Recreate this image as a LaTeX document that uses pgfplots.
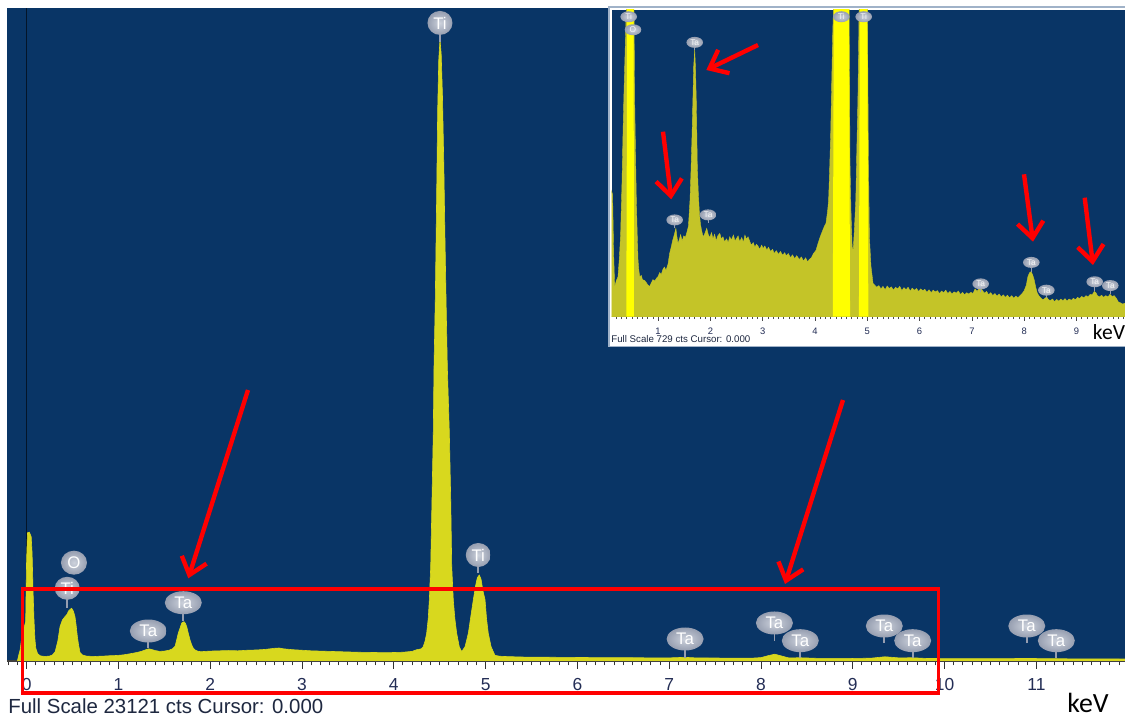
\documentclass[border=0pt]{standalone}
\usepackage{fontspec}
\setmainfont{Liberation Sans}
\newfontfamily\calibri{Carlito}
\usepackage{pgfplots}
\usepackage{pgfplotstable}
\pgfplotsset{compat=1.18}
\usetikzlibrary{arrows.meta,shapes.geometric}

\definecolor{edsblue}{RGB}{9,53,102}
\definecolor{edsyel}{RGB}{216,216,30}
\definecolor{edsolive}{RGB}{196,196,40}
\definecolor{edsbright}{RGB}{255,255,0}
\definecolor{ticktxt}{RGB}{35,45,85}
\definecolor{balin}{RGB}{205,210,220}
\definecolor{balout}{RGB}{150,158,176}
\definecolor{framec}{RGB}{160,178,200}

% main spectrum, full scale 23121 cts
\pgfplotstableread{
e c
-0.10 0
-0.09 150
-0.07 400
-0.05 900
-0.03 1150
-0.01 1400
0.00 3600
0.01 4540
0.03 4560
0.05 4400
0.06 3800
0.07 2500
0.08 1500
0.09 800
0.10 450
0.12 260
0.15 180
0.20 160
0.25 175
0.28 210
0.31 320
0.34 700
0.364 1215
0.39 1450
0.418 1570
0.44 1650
0.455 1760
0.475 1830
0.491 1866
0.51 1760
0.527 1570
0.54 1250
0.553 860
0.567 550
0.582 300
0.61 210
0.65 175
0.70 165
0.75 160
0.80 170
0.85 175
0.90 185
0.95 190
1.00 200
1.05 215
1.10 240
1.15 270
1.20 300
1.25 340
1.30 400
1.33 430
1.36 410
1.40 370
1.45 340
1.50 350
1.55 380
1.59 430
1.617 520
1.635 750
1.653 990
1.67 1150
1.69 1345
1.715 1392
1.73 1330
1.744 1215
1.76 1000
1.78 745
1.80 560
1.816 450
1.84 380
1.871 340
1.90 330
1.95 340
2.00 350
2.10 360
2.20 370
2.30 360
2.40 380
2.50 390
2.60 410
2.70 450
2.75 460
2.80 430
2.90 400
3.00 380
3.10 360
3.20 350
3.30 340
3.40 330
3.50 320
3.60 310
3.70 305
3.80 300
3.90 295
4.00 300
4.10 310
4.20 340
4.25 400
4.30 430
4.32 506
4.34 700
4.358 981
4.375 1500
4.387 2160
4.402 3340
4.416 5700
4.430 8060
4.438 10400
4.452 12800
4.465 16000
4.478 19500
4.49 21300
4.503 22000
4.516 21500
4.530 20000
4.545 17500
4.557 15000
4.569 12800
4.583 10400
4.605 8060
4.620 5700
4.631 3340
4.648 2160
4.665 1500
4.685 981
4.713 506
4.740 330
4.776 506
4.812 981
4.840 1600
4.866 2160
4.890 2650
4.910 2950
4.931 3045
4.950 2900
4.970 2500
4.994 2160
5.010 1500
5.029 981
5.060 500
5.102 200
5.15 170
5.20 160
5.40 140
5.60 135
5.80 130
6.00 125
6.20 120
6.40 118
6.60 115
6.80 112
7.00 110
7.17 130
7.30 108
7.50 105
7.70 102
7.90 100
8.00 120
8.08 190
8.15 240
8.22 180
8.30 110
8.43 115
8.60 95
8.80 92
9.00 90
9.20 100
9.35 150
9.50 110
9.65 115
9.80 90
10.00 85
10.50 80
10.90 90
11.20 80
11.50 75
11.965 70
}\mainspec

% inset spectrum, full scale 729 cts
\pgfplotstableread{
e c
0.109 300
0.13 290
0.15 150
0.17 71
0.20 85
0.233 95
0.26 140
0.284 198
0.31 320
0.329 436
0.345 520
0.361 594
0.38 680
0.392 729
0.41 760
0.42 900
0.45 1200
0.48 1400
0.51 1200
0.53 850
0.539 729
0.552 515
0.568 390
0.584 277
0.60 200
0.616 135
0.632 110
0.648 95
0.68 98
0.70 88
0.743 86
0.78 80
0.80 76
0.839 72
0.87 80
0.90 88
0.94 85
0.97 92
0.998 95
1.03 105
1.06 100
1.09 112
1.12 118
1.15 110
1.19 125
1.22 150
1.25 165
1.28 182
1.31 195
1.34 210
1.36 190
1.38 174
1.41 185
1.43 195
1.46 180
1.49 192
1.52 188
1.55 200
1.58 215
1.61 277
1.63 350
1.65 436
1.67 540
1.68 594
1.70 634
1.715 590
1.73 515
1.75 357
1.77 290
1.79 245
1.81 220
1.83 206
1.85 195
1.87 190
1.90 200
1.93 210
1.96 195
1.99 188
2.02 200
2.05 185
2.08 196
2.11 180
2.14 192
2.18 198
2.21 184
2.24 190
2.27 178
2.31 185
2.34 176
2.37 190
2.40 182
2.44 194
2.47 180
2.50 186
2.53 192
2.56 178
2.60 188
2.63 176
2.66 194
2.69 184
2.72 190
2.75 180
2.78 170
2.82 176
2.85 165
2.88 172
2.91 168
2.94 160
2.98 170
3.01 162
3.04 168
3.08 158
3.11 165
3.15 155
3.19 160
3.22 150
3.26 157
3.30 148
3.34 155
3.38 146
3.42 152
3.45 145
3.49 150
3.53 140
3.57 147
3.61 138
3.65 145
3.70 136
3.74 142
3.78 132
3.82 140
3.86 130
3.89 136
3.93 140
3.97 150
4.02 158
4.06 175
4.10 190
4.15 206
4.18 215
4.21 222
4.24 250
4.26 277
4.28 350
4.30 436
4.32 560
4.34 680
4.36 760
4.38 1100
4.42 2500
4.46 6000
4.50 9000
4.54 7000
4.58 3000
4.62 1200
4.65 760
4.67 357
4.69 240
4.71 166
4.73 158
4.75 200
4.78 277
4.80 400
4.82 515
4.84 700
4.86 900
4.90 1600
4.93 1800
4.97 1200
5.00 760
5.02 400
5.04 190
5.07 120
5.11 79
5.14 75
5.18 70
5.22 74
5.26 66
5.30 72
5.34 64
5.38 73
5.42 67
5.46 71
5.50 63
5.54 70
5.58 66
5.62 72
5.66 62
5.70 69
5.74 64
5.78 70
5.82 61
5.86 68
5.90 63
5.94 67
5.98 60
6.02 66
6.06 62
6.10 65
6.14 58
6.18 64
6.22 57
6.26 63
6.30 59
6.34 62
6.38 55
6.42 61
6.46 57
6.50 63
6.54 55
6.58 60
6.62 54
6.66 59
6.70 56
6.74 61
6.78 53
6.82 58
6.86 52
6.90 57
6.94 54
6.98 58
7.02 55
7.06 66
7.10 60
7.14 68
7.17 70
7.20 62
7.24 56
7.28 60
7.32 52
7.36 57
7.40 50
7.44 55
7.48 49
7.52 54
7.56 47
7.60 52
7.64 46
7.68 51
7.72 45
7.76 50
7.80 44
7.84 49
7.88 45
7.92 50
7.96 55
8.00 62
8.04 75
8.07 95
8.10 104
8.13 107
8.16 100
8.19 88
8.22 70
8.25 56
8.28 50
8.32 44
8.36 40
8.40 44
8.43 47
8.46 41
8.50 38
8.54 42
8.58 36
8.62 41
8.66 37
8.70 42
8.74 38
8.78 43
8.82 37
8.86 42
8.90 39
8.94 44
8.98 40
9.02 46
9.06 43
9.10 48
9.14 45
9.18 50
9.22 47
9.26 53
9.30 52
9.34 60
9.37 57
9.40 50
9.44 47
9.48 51
9.52 46
9.56 50
9.60 47
9.64 53
9.68 48
9.72 50
9.76 44
9.80 35
9.84 33
9.88 30
9.927 32
}\insetspec

\tikzset{
  balloon/.style={ellipse, inner sep=0pt, inner color=balin, outer color=balout,
    text=white, font=\fontsize{8.4}{9}\selectfont},
  smallballoon/.style={balloon, font=\fontsize{4.2}{5}\selectfont, text=white!92!gray},
  stem/.style={draw=balout, line width=0.9pt},
  smallstem/.style={draw=balout, line width=0.5pt},
  redarrow/.style={draw=red, line width=2.2pt, -{Straight Barb[length=8pt,width=13pt]}},
}
% x, y of stem foot, y of balloon centre, text, width, height, style
\newcommand{\peak}[7]{%
  \draw[#7stem] (axis cs:#1,#2) -- (axis cs:#1,#3);
  \node[#7balloon, minimum width=#5, minimum height=#6] at (axis cs:#1,#3) {#4};}

\begin{document}
\begin{tikzpicture}
\fill[white, use as bounding box] (0,0) rectangle (562.5pt,358.5pt);

% ---- main spectrum ----
\begin{axis}[
    at={(3.5pt,28pt)}, anchor=south west,
    scale only axis, width=559pt, height=326.5pt,
    xmin=-0.2135, xmax=11.965, ymin=0, ymax=23121,
    axis background/.style={fill=edsblue},
    axis x line*=bottom, axis y line=none,
    x axis line style={black!75, line width=0.6pt},
    xtick={-1,0,...,12}, minor x tick num=9,
    tick align=outside, major tick length=4pt, minor tick length=2.2pt,
    tick style={black!80, line width=0.5pt},
    ytick=\empty,
    xticklabel style={font=\fontsize{8.7}{9}\selectfont, text=ticktxt, yshift=-1.2pt},
    /pgf/number format/assume math mode=true,
  ]
  \draw[black!60!edsblue, line width=0.6pt] (axis cs:0,0) -- (axis cs:0,23121);
  \addplot[fill=edsyel, draw=edsyel, line width=0.3pt] table[x=e, y=c] {\mainspec} \closedcycle;

  \peak{0.443}{1877}{2574}{Ti}{12.5pt}{11.5pt}{}
  \peak{0.516}{3300}{3481}{O}{13pt}{12pt}{}
  \peak{1.326}{460}{1062}{Ta}{18.5pt}{11.5pt}{}
  \peak{1.707}{1416}{2064}{Ta}{18.5pt}{11.5pt}{}
  \peak{4.503}{21919}{22592}{Ti}{12.5pt}{12pt}{}
  \peak{4.920}{3116}{3753}{Ti}{12.5pt}{12pt}{}
  \peak{7.173}{106}{779}{Ta}{18.5pt}{11.5pt}{}
  \peak{8.146}{708}{1346}{Ta}{18.5pt}{11.5pt}{}
  \peak{8.428}{106}{719}{Ta}{18.5pt}{11.5pt}{}
  \peak{9.343}{637}{1239}{Ta}{18.5pt}{11.5pt}{}
  \peak{9.652}{106}{719}{Ta}{18.5pt}{11.5pt}{}
  \peak{10.895}{637}{1239}{Ta}{18.5pt}{11.5pt}{}
  \peak{11.217}{106}{719}{Ta}{18.5pt}{11.5pt}{}
\end{axis}

\node[anchor=west, inner sep=0pt, font=\fontsize{10.2}{10}\selectfont, text={rgb,255:red,30;green,40;blue,64}]
  at (4pt,5.5pt) {Full Scale 23121 cts Cursor: 0.000};
\node[inner sep=0pt, font=\calibri\fontsize{13.9}{14}\selectfont] at (544pt,7.25pt) {keV};

% red box and arrows on the main spectrum
\draw[red, line width=1.7pt] (11.35pt,12pt) rectangle (469.25pt,64pt);
\draw[redarrow] (124pt,163.5pt) -- (94.15pt,69.35pt);
\draw[redarrow] (421.5pt,158.5pt) -- (392.5pt,66.5pt);

% ---- inset ----
\filldraw[fill=white, draw=framec, line width=0.8pt] (304.5pt,185.25pt) rectangle (566pt,355pt);
\begin{axis}[
    at={(305.75pt,200.15pt)}, anchor=south west,
    scale only axis, width=256.75pt, height=153.35pt,
    xmin=0.109, xmax=9.927, ymin=0, ymax=729,
    axis background/.style={fill=edsblue},
    axis x line*=bottom, axis y line=none,
    x axis line style={black!60, line width=0.4pt},
    xtick={0,...,10}, minor x tick num=9,
    tick align=outside, major tick length=2pt, minor tick length=1.2pt,
    tick style={black!70, line width=0.35pt},
    ytick=\empty,
    xticklabel style={font=\fontsize{4.7}{5}\selectfont, text=ticktxt},
    /pgf/number format/assume math mode=true,
  ]
  \addplot[fill=edsolive, draw=edsolive, line width=0.2pt] table[x=e, y=c] {\insetspec} \closedcycle;
  \addplot[fill=edsbright, draw=none, y filter/.expression={y>729 ? y : 0}] table[x=e, y=c] {\insetspec} \closedcycle;

  \peak{0.438}{700}{713}{Ti}{8.3pt}{5.5pt}{small}
  \peak{0.520}{670}{682}{O}{8.3pt}{5.5pt}{small}
  \peak{1.700}{634}{652}{Ta}{8.3pt}{5.5pt}{small}
  \peak{1.317}{210}{230}{Ta}{8.3pt}{5.5pt}{small}
  \peak{1.954}{223}{242}{Ta}{8.3pt}{5.5pt}{small}
  \peak{4.503}{700}{713}{Ti}{8.3pt}{5.5pt}{small}
  \peak{4.931}{700}{713}{Ti}{8.3pt}{5.5pt}{small}
  \peak{7.168}{58}{78}{Ta}{8.3pt}{5.5pt}{small}
  \peak{8.136}{107}{129}{Ta}{8.3pt}{5.5pt}{small}
  \peak{8.423}{45}{63}{Ta}{8.3pt}{5.5pt}{small}
  \peak{9.348}{62}{83}{Ta}{8.3pt}{5.5pt}{small}
  \peak{9.646}{55}{74}{Ta}{8.3pt}{5.5pt}{small}
\end{axis}

\node[anchor=west, inner sep=0pt, font=\fontsize{4.85}{5}\selectfont, text={rgb,255:red,30;green,40;blue,64}]
  at (305.5pt,189pt) {Full Scale 729 cts Cursor: 0.000};
\node[inner sep=0pt, font=\calibri\fontsize{10.8}{11}\selectfont] at (554.5pt,192.25pt) {keV};

\draw[redarrow] (379pt,336pt) -- (353.15pt,323.5pt);
\draw[redarrow] (331.5pt,292.65pt) -- (335.65pt,258.85pt);
\draw[redarrow] (512pt,271.35pt) -- (516.5pt,237.65pt);
\draw[redarrow] (542.35pt,259.65pt) -- (546.5pt,226pt);
\end{tikzpicture}
\end{document}
